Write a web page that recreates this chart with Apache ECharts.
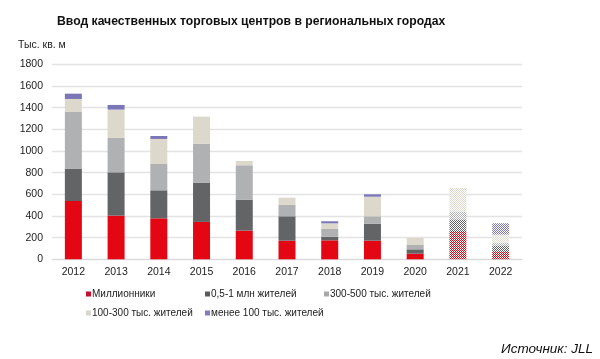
<!DOCTYPE html>
<html><head><meta charset="utf-8">
<script src="https://cdn.jsdelivr.net/npm/echarts@6/dist/echarts.min.js"></script>
<style>html,body{margin:0;padding:0;background:#fff}#c{width:600px;height:359px}</style>
</head><body><div id="c"></div>
<script>
const categories = ['2012','2013','2014','2015','2016','2017','2018','2019','2020','2021','2022'];
const forecastYears = ['2021','2022'];
const seriesNames = ['Миллионники','0,5-1 млн жителей','300-500 тыс. жителей','100-300 тыс. жителей','менее 100 тыс. жителей'];
const millionCities = [538,403,378,345,265,172,175,172,52,261,68];
const halfToOneMln = [299,400,259,360,286,225,34,157,40,108,60];
const from300to500 = [523,320,243,363,317,105,71,68,40,71,25];
const from100to300 = [120,259,231,249,40,67,52,181,65,218,75];
const under100 = [49,43,27,0,0,0,19,22,0,0,105];
const yTicks = {min:0, max:1800, interval:200};

const colors = ['#e30613','#636466','#b0b1b3','#dcd8cc','#7a76b8'];
const legendColors = ['#c8102e','#5a5a5c','#a8a8aa','#d8d5cc','#7f7cc0'];

function pattern(col){
  const c = document.createElement('canvas'); c.width = 2; c.height = 2;
  const g = c.getContext('2d');
  g.fillStyle = '#ffffff'; g.fillRect(0,0,2,2);
  g.fillStyle = col; g.fillRect(0,0,1,1); g.fillRect(1,1,1,1);
  return {image: c, repetition: 'repeat'};
}
const allData = [millionCities, halfToOneMln, from300to500, from100to300, under100];

const series = allData.map((arr, si) => ({
  name: seriesNames[si], type: 'bar', stack: 'total', barWidth: 17,
  itemStyle: {color: colors[si]},
  emphasis: {disabled: true},
  data: arr.map((v, i) => forecastYears.includes(categories[i])
      ? {value: v, itemStyle: {color: pattern(colors[si])}} : v)
}));

const legendPos = [[86,289],[205,289],[324,289],[86,308],[205,308]];
const legends = seriesNames.map((n, i) => ({
  data: [{name: n, itemStyle: {color: legendColors[i]}}],
  left: legendPos[i][0], top: legendPos[i][1], padding: 0,
  itemWidth: 5, itemHeight: 5, icon: 'rect', selectedMode: false,
  textStyle: {fontFamily: 'Liberation Sans', fontSize: 10, color: '#222', padding: [0,0,0,-4]}
}));

const chart = echarts.init(document.getElementById('c'), null, {renderer: 'canvas'});
chart.setOption({
  animation: false,
  title: {text: 'Ввод качественных торговых центров в региональных городах', left: 57, top: 16, padding: 0,
    textStyle: {fontFamily: 'Liberation Sans', fontWeight: 'bold', fontSize: 12.2, color: '#111'}},
  legend: legends,
  grid: {left: 52, right: 78, top: 64.3, bottom: 99.7, containLabel: false},
  xAxis: {type: 'category', data: categories,
    axisLine: {lineStyle: {color: '#d9d9d9', width: 1}}, axisTick: {show: false},
    axisLabel: {margin: 7, fontFamily: 'Liberation Sans', fontSize: 10.5, color: '#222'}},
  yAxis: {type: 'value', min: yTicks.min, max: yTicks.max, interval: yTicks.interval,
    axisLine: {show: false}, axisTick: {show: false},
    splitLine: {lineStyle: {color: '#e3e3e3', width: 1.3}},
    axisLabel: {margin: 9, fontFamily: 'Liberation Sans', fontSize: 10.5, color: '#222',
      formatter: v => String(v)}},
  graphic: [
    {type: 'text', left: 18, top: 40, style: {text: 'Тыс. кв. м', font: '10.5px "Liberation Sans"', fill: '#222'}},
    {type: 'text', right: 7, top: 342, style: {text: 'Источник: JLL', font: 'italic 13.5px "Liberation Sans"', fill: '#111'}}
  ],
  series: series
});
</script></body></html>
